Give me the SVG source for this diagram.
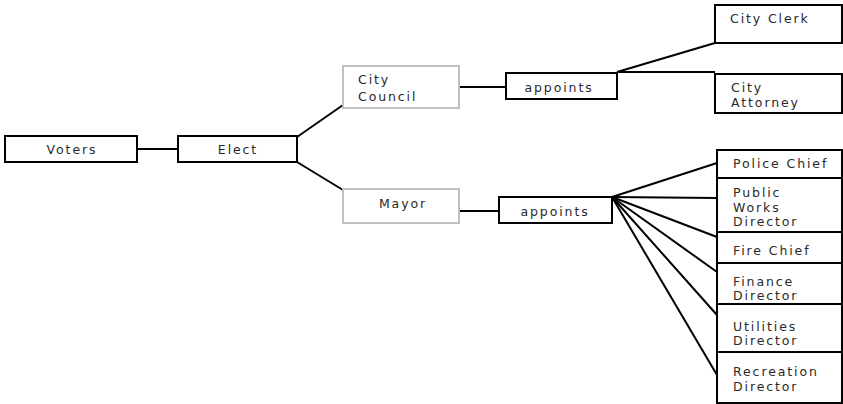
<svg xmlns="http://www.w3.org/2000/svg" width="843" height="404" viewBox="0 0 843 404">
<style>
.b{fill:#fff;stroke:#000;stroke-width:2}
.g{fill:#fff;stroke:#c0c0c0;stroke-width:2}
.t{font-family:"DejaVu Sans",Verdana,sans-serif;font-size:12.5px;letter-spacing:1.9px;fill:#2a2a2a}
.c{text-anchor:middle}
#connectors line{stroke:#000;stroke-width:2}
</style>
<rect width="843" height="404" fill="#fff"/>
<g id="connectors">
<line x1="137" y1="149" x2="178" y2="149"/>
<line x1="297" y1="137" x2="343" y2="105"/>
<line x1="297" y1="162" x2="343" y2="190"/>
<line x1="459" y1="87" x2="506" y2="87"/>
<line x1="459" y1="211" x2="499" y2="211"/>
<line x1="617" y1="72" x2="715" y2="43"/>
<line x1="617" y1="72" x2="715" y2="72"/>
<line x1="612" y1="197" x2="717" y2="163"/>
<line x1="612" y1="197" x2="717" y2="198"/>
<line x1="612" y1="197" x2="717" y2="237"/>
<line x1="612" y1="197" x2="717" y2="272"/>
<line x1="612" y1="197" x2="717" y2="315"/>
<line x1="612" y1="197" x2="717" y2="375"/>
</g>
<g id="voters"><rect class="b" x="5" y="136" width="132" height="26"/><text class="t c" x="72" y="154">Voters</text></g>
<g id="elect"><rect class="b" x="178" y="136" width="119" height="26"/><text class="t c" x="238" y="154">Elect</text></g>
<g id="council"><rect class="g" x="343" y="66" width="116" height="42"/><text class="t" x="358" y="84">City</text><text class="t" x="358" y="101">Council</text></g>
<g id="mayor"><rect class="g" x="343" y="189" width="116" height="34"/><text class="t c" x="403" y="208">Mayor</text></g>
<g id="appoints1"><rect class="b" x="506" y="73" width="111" height="26"/><text class="t c" x="559" y="92">appoints</text></g>
<g id="appoints2"><rect class="b" x="499" y="197" width="113" height="26"/><text class="t c" x="555" y="216">appoints</text></g>
<g id="clerk"><rect class="b" x="715" y="5" width="127" height="38"/><text class="t" x="730" y="23">City Clerk</text></g>
<g id="attorney"><rect class="b" x="715" y="74" width="127" height="39"/><text class="t" x="731" y="92">City</text><text class="t" x="731" y="107">Attorney</text></g>
<g id="police"><rect class="b" x="717" y="150" width="125" height="28"/><text class="t" x="733" y="168">Police Chief</text></g>
<g id="publicworks"><rect class="b" x="717" y="178" width="125" height="54"/><text class="t" x="733" y="197">Public</text><text class="t" x="733" y="212">Works</text><text class="t" x="733" y="226">Director</text></g>
<g id="fire"><rect class="b" x="717" y="232" width="125" height="31"/><text class="t" x="733" y="255">Fire Chief</text></g>
<g id="finance"><rect class="b" x="717" y="263" width="125" height="41"/><text class="t" x="733" y="286">Finance</text><text class="t" x="733" y="300">Director</text></g>
<g id="utilities"><rect class="b" x="717" y="304" width="125" height="48"/><text class="t" x="733" y="331">Utilities</text><text class="t" x="733" y="345">Director</text></g>
<g id="recreation"><rect class="b" x="717" y="352" width="125" height="51"/><text class="t" x="733" y="376">Recreation</text><text class="t" x="733" y="391">Director</text></g>
</svg>
